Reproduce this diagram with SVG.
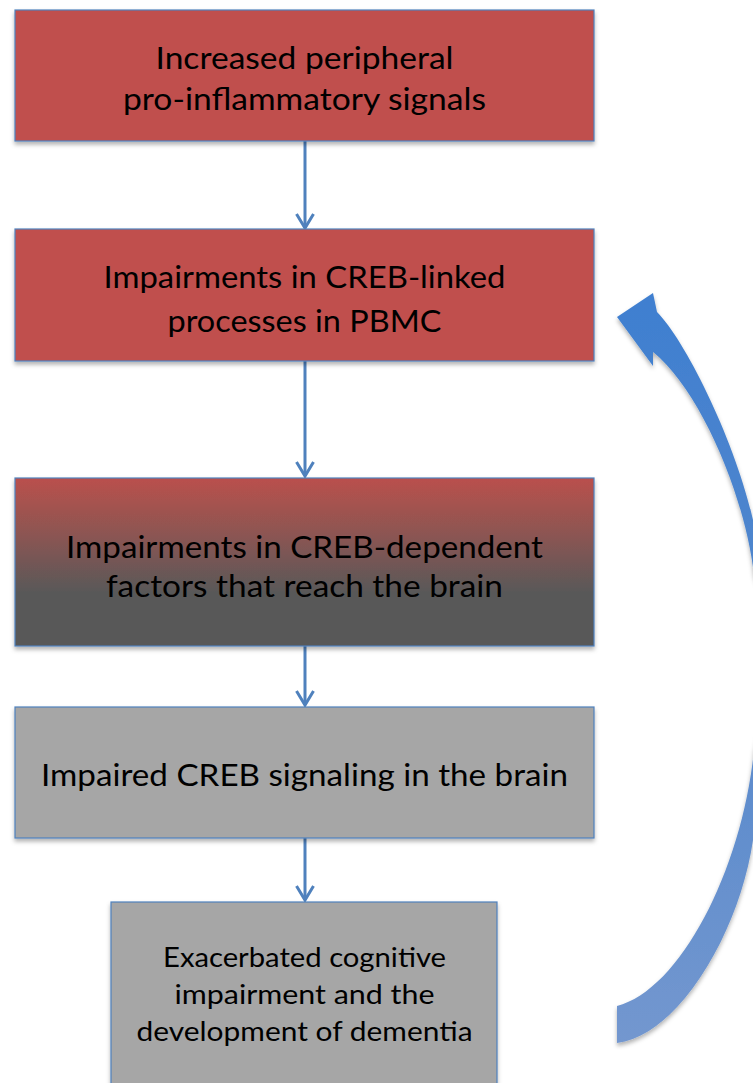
<svg xmlns="http://www.w3.org/2000/svg" width="753" height="1083" viewBox="0 0 753 1083">
<style>
.box{stroke:#4F81BD;stroke-width:1.2;filter:url(#sh)}
.red{fill:#C0504D}
.gray{fill:#A6A6A6}
.t{font-family:Lato,"Open Sans","Liberation Sans",sans-serif;fill:#000;text-anchor:middle}
.big{font-size:31px}
.small{font-size:27px}
.con{stroke:#4F81BD;stroke-width:3;fill:none;marker-end:url(#ah)}
</style>
<defs>
<filter id="sh" x="-5%" y="-5%" width="110%" height="115%">
<feDropShadow dx="0" dy="3" stdDeviation="2" flood-color="#000" flood-opacity="0.3"/>
</filter>
<linearGradient id="g3" x1="0" y1="0" x2="0" y2="1">
<stop offset="0" stop-color="#BA504D"/>
<stop offset="0.35" stop-color="#8A5552"/>
<stop offset="0.68" stop-color="#595959"/>
<stop offset="1" stop-color="#595959"/>
</linearGradient>
<linearGradient id="ga" x1="0" y1="0" x2="0" y2="1">
<stop offset="0" stop-color="#3F7FD0"/>
<stop offset="0.5" stop-color="#5588CC"/>
<stop offset="1" stop-color="#7397CF"/>
</linearGradient>
<marker id="ah" viewBox="0 0 20 20" refX="17" refY="10" markerWidth="20" markerHeight="20" markerUnits="userSpaceOnUse" orient="auto">
<path d="M3,1.5 L17,10 L3,18.5" fill="none" stroke="#4F81BD" stroke-width="3"/>
</marker>
</defs>

<g id="connectors">
<line class="con" x1="305" y1="141" x2="305" y2="228"/>
<line class="con" x1="305" y1="361" x2="305" y2="476"/>
<line class="con" x1="305" y1="646" x2="305" y2="705"/>
<line class="con" x1="305" y1="838" x2="305" y2="900"/>
<path id="feedback-arrow" d="M617,1043 L617,1006 C680,990 742,870 754,750 C766,700 778,630 754,575 C745,495 700,390 653,352 L653,366 L617,317 L653,293 L657,312 C685,340 735,440 753,520 C800,600 800,760 753,840 C740,930 680,1035 617,1043 Z" fill="url(#ga)" filter="url(#sh)"/>
</g>

<g id="node1">
<rect class="box red" x="15" y="10" width="579" height="131"/>
<text class="t big" x="304.5" y="69" textLength="298" lengthAdjust="spacingAndGlyphs">Increased peripheral</text>
<text class="t big" x="304.5" y="110" textLength="363" lengthAdjust="spacingAndGlyphs">pro-inflammatory signals</text>
</g>

<g id="node2">
<rect class="box red" x="15" y="229" width="579" height="132"/>
<text class="t big" x="304.5" y="288" textLength="402" lengthAdjust="spacingAndGlyphs">Impairments in CREB-linked</text>
<text class="t big" x="304.5" y="332" textLength="274" lengthAdjust="spacingAndGlyphs">processes in PBMC</text>
</g>

<g id="node3">
<rect class="box" fill="url(#g3)" x="15" y="478" width="579" height="168"/>
<text class="t big" x="304.5" y="558" textLength="477" lengthAdjust="spacingAndGlyphs">Impairments in CREB-dependent</text>
<text class="t big" x="304.5" y="597" textLength="397" lengthAdjust="spacingAndGlyphs">factors that reach the brain</text>
</g>

<g id="node4">
<rect class="box gray" x="15" y="707" width="579" height="131"/>
<text class="t big" x="304.5" y="786" textLength="527" lengthAdjust="spacingAndGlyphs">Impaired CREB signaling in the brain</text>
</g>

<g id="node5">
<rect class="box gray" x="111" y="902" width="386" height="190"/>
<text class="t small" x="304.5" y="967" textLength="283" lengthAdjust="spacingAndGlyphs">Exacerbated cognitive</text>
<text class="t small" x="304.5" y="1004" textLength="260" lengthAdjust="spacingAndGlyphs">impairment and the</text>
<text class="t small" x="304.5" y="1041" textLength="336" lengthAdjust="spacingAndGlyphs">development of dementia</text>
</g>
</svg>
